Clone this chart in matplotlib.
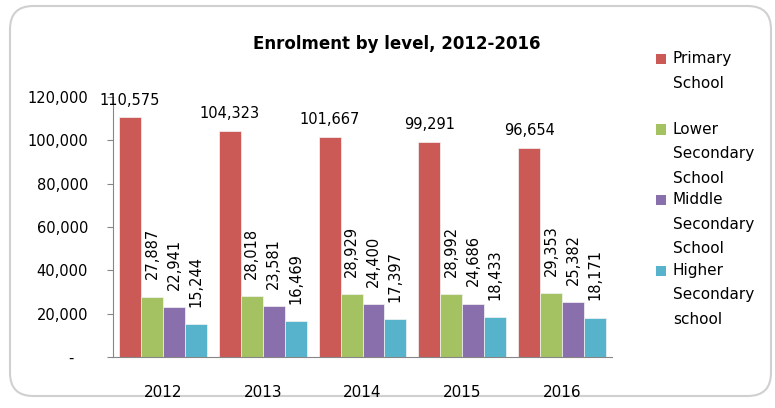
import matplotlib.pyplot as plt
from matplotlib.patches import FancyBboxPatch, Rectangle
import numpy as np

years = ["2012", "2013", "2014", "2015", "2016"]
primary = [110575, 104323, 101667, 99291, 96654]
lower_sec = [27887, 28018, 28929, 28992, 29353]
middle_sec = [22941, 23581, 24400, 24686, 25382]
higher_sec = [15244, 16469, 17397, 18433, 18171]

series_names = ["Primary\nSchool", "Lower\nSecondary\nSchool",
                "Middle\nSecondary\nSchool", "Higher\nSecondary\nschool"]
colors = ["#CB5A57", "#A5C263", "#8A6FAD", "#57B3CB"]

W, H = 775, 408
fig = plt.figure(figsize=(W / 100, H / 100), dpi=100)
plt.rcParams['font.family'] = ['DejaVu Sans']

# rounded chart border
border = FancyBboxPatch((10 / W, 12 / H), 761 / W, 390 / H,
                        boxstyle="round,pad=0,rounding_size=0.03",
                        transform=fig.transFigure, fc="none", ec="#D0D0D0", lw=1.5,
                        mutation_aspect=W / H, zorder=-1)
fig.patches.append(border)

ax = fig.add_axes([113 / W, 1 - 357 / H, (612 - 113) / W, (357 - 97) / H])
ax.set_facecolor("none")

x = np.arange(len(years))
w = 0.22
offsets = [-1.5 * w, -0.5 * w, 0.5 * w, 1.5 * w]
all_series = [primary, lower_sec, middle_sec, higher_sec]

for i, vals in enumerate(all_series):
    bars = ax.bar(x + offsets[i], vals, w, color=colors[i], edgecolor="#F4F4F4", linewidth=0.5)
    if i == 0:
        ax.bar_label(bars, labels=[f"{v:,}" for v in vals], padding=7, fontsize=10.5)
    else:
        ax.bar_label(bars, labels=[f"{v:,}" for v in vals], padding=12.5, fontsize=10.5,
                     rotation=90)

ax.set_xlim(-0.5, 4.5)
ax.set_ylim(0, 120000)
ax.set_yticks(np.arange(0, 120001, 20000))
ax.set_yticklabels(["-   "] + [f"{v:,}" for v in range(20000, 120001, 20000)])
ax.set_xticks(x)
ax.set_xticklabels(years)

for s in ["top", "right"]:
    ax.spines[s].set_visible(False)
for s in ["left", "bottom"]:
    ax.spines[s].set_color("#868686")
ax.tick_params(axis="y", length=4, color="#868686", labelsize=10.5, pad=14)
ax.tick_params(axis="x", length=0, labelsize=11, pad=20)

fig.text(397 / W, 1 - 44 / H, "Enrolment by level, 2012-2016", ha="center", va="center",
         fontsize=12, fontweight="bold")

# legend drawn by hand so the squares line up with the first line of each entry
for i, name in enumerate(series_names):
    y0 = 59 + i * 70.5
    fig.patches.append(Rectangle((656 / W, 1 - (y0 + 5) / H), 10 / W, 10 / H,
                                 transform=fig.transFigure, fc=colors[i], ec="none"))
    for j, line in enumerate(name.split("\n")):
        fig.text(673 / W, 1 - (y0 + j * 24.3) / H, line, ha="left", va="center", fontsize=11)

fig.savefig("out.png", dpi=100)
